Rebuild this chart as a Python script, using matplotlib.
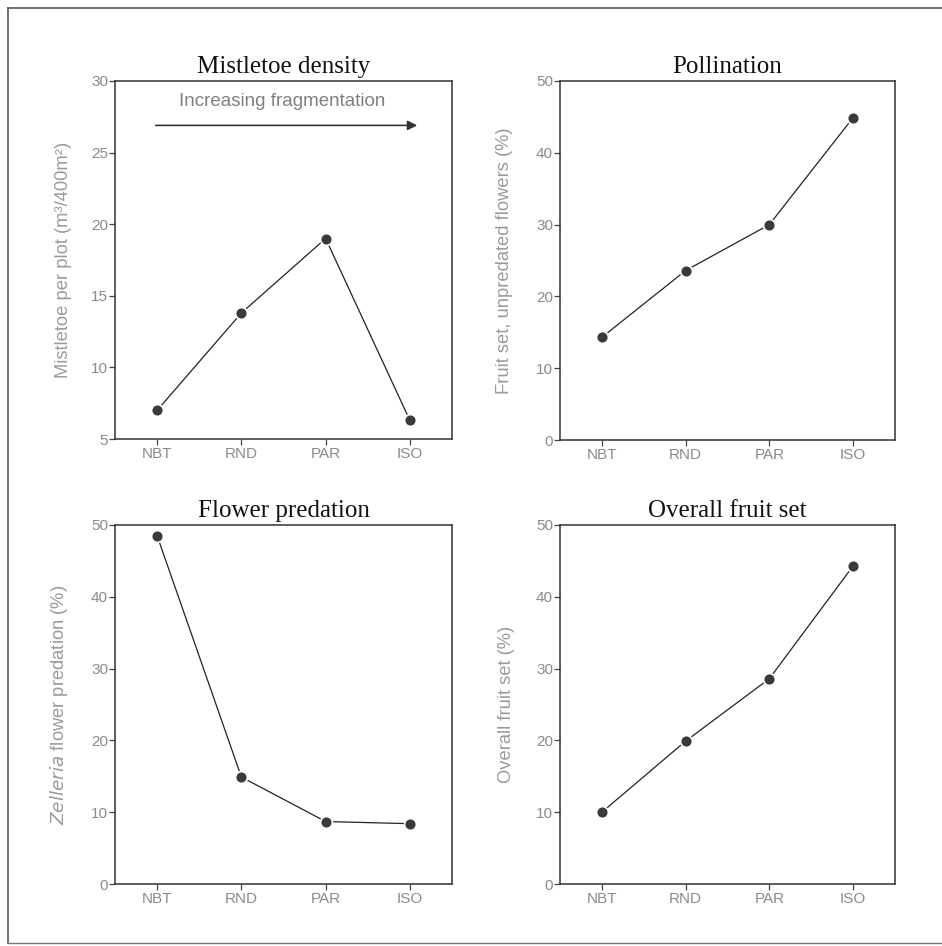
import matplotlib
matplotlib.use("Agg")
import matplotlib.pyplot as plt
from matplotlib.lines import Line2D

# Habitat categories along the fragmentation gradient
sites = ["NBT", "RND", "PAR", "ISO"]

mistletoe_density = [7.0, 13.8, 19.0, 6.3]
pollination = [14.3, 23.6, 30.0, 44.9]
flower_predation = [48.5, 14.9, 8.7, 8.4]
overall_fruit_set = [10.0, 19.9, 28.6, 44.3]

W, H = 942, 946
fig = plt.figure(figsize=(W / 100, H / 100), dpi=100)

tick_color = "#8a8a8a"
label_color = "#9a9a9a"


def px_axes(left, top, right, bottom):
    return fig.add_axes([left / W, (H - bottom) / H, (right - left) / W, (bottom - top) / H])


def style_panel(ax, values, title, ylim, yticks, ylabel, label_x):
    x = range(1, len(sites) + 1)
    ax.plot(x, values, color="#222222", lw=0.9, zorder=2)
    ax.plot(x, values, "o", ms=8.5, mfc="#3a3a3a", mec="white", mew=1.2, zorder=3)
    ax.set_xlim(0.5, 4.5)
    ax.set_ylim(*ylim)
    ax.set_yticks(yticks)
    ax.set_xticks(list(x))
    ax.set_xticklabels(sites)
    for s in ax.spines.values():
        s.set_linewidth(1.1)
        s.set_color("#333333")
    ax.tick_params(direction="out", length=4, width=0.9, colors="#444444",
                   labelcolor=tick_color, labelsize=11, pad=2)
    ax.tick_params(axis="y", pad=1)
    for lab in ax.get_xticklabels() + ax.get_yticklabels():
        lab.set_family("Liberation Sans")
    ax.set_title(title, family="Liberation Serif", fontsize=18, pad=6, color="#111111")
    ax.set_ylabel(ylabel, family="Liberation Sans", fontsize=13.2, color=label_color)
    ax.yaxis.set_label_coords(label_x, 0.5)


ax1 = px_axes(115, 81, 452, 439)
style_panel(ax1, mistletoe_density, "Mistletoe density", (5, 30), [5, 10, 15, 20, 25, 30],
            "Mistletoe per plot (m³/400m²)", -0.128)
ax1.annotate("", xy=(4.12, 26.9), xytext=(0.95, 26.9),
             arrowprops=dict(arrowstyle="-|>", color="#333333", lw=1.2, mutation_scale=14))
ax1.text(2.48, 28.6, "Increasing fragmentation", ha="center", va="center",
         family="Liberation Sans", fontsize=13.5, color="#808080")

ax2 = px_axes(560, 81, 895, 440)
style_panel(ax2, pollination, "Pollination", (0, 50), [0, 10, 20, 30, 40, 50],
            "Fruit set, unpredated flowers (%)", -0.14)

ax3 = px_axes(115, 525, 452, 884)
style_panel(ax3, flower_predation, "Flower predation", (0, 50), [0, 10, 20, 30, 40, 50],
            r"$\it{Zelleria}$ flower predation (%)", -0.134)

ax4 = px_axes(560, 525, 895, 884)
style_panel(ax4, overall_fruit_set, "Overall fruit set", (0, 50), [0, 10, 20, 30, 40, 50],
            "Overall fruit set (%)", -0.134)

# page border lines from the scanned figure
fig.add_artist(Line2D([8 / W, 8 / W], [1 - 8 / H, 1 - 943 / H], color="#555555", lw=1.2))
fig.add_artist(Line2D([8 / W, 1], [1 - 8 / H, 1 - 8 / H], color="#555555", lw=1.2))
fig.add_artist(Line2D([8 / W, 1], [1 - 943 / H, 1 - 943 / H], color="#777777", lw=1.0))

fig.savefig("out.png", dpi=100)
